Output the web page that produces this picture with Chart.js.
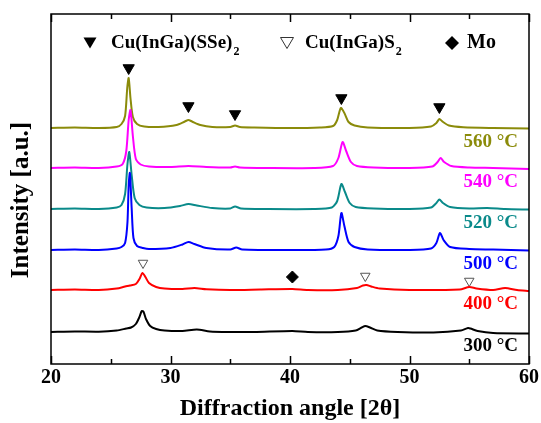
<!DOCTYPE html>
<html>
<head>
<meta charset="utf-8">
<script src="https://cdn.jsdelivr.net/npm/chart.js@4.4.0/dist/chart.umd.min.js"></script>
<style>
  body { margin: 0; background: #fff; }
  #wrap { width: 541px; height: 423px; }
</style>
</head>
<body>
<div id="wrap"><canvas id="xrd"></canvas></div>
<script>
// sample labels and colours, bottom curve first
var temps = ["300 °C", "400 °C", "500 °C", "520 °C", "540 °C", "560 °C"];
var colors = ["#000000", "#ff0000", "#0000ff", "#0a8a8a", "#ff00ff", "#8b8b0a"];
// vertical offset of each curve (a.u.)
var offsets = [32, 74, 114, 155, 196, 236];

// 2theta / intensity
var x300 = [20, 22, 24, 25.5, 26.3, 26.7, 27.1, 27.4, 27.6, 27.75, 27.95, 28.3, 28.8, 29.5, 31, 32.2, 33.3, 35, 37, 40.2, 41.5, 44, 45.5, 46.0, 46.3, 46.7, 47.3, 49, 52, 54.3, 54.9, 55.1, 55.7, 57, 60];
var y300 = [0, 0.5, 0.3, 1.5, 3.5, 4.5, 8, 15, 21, 20, 13, 6, 3, 1.5, 1, 2.5, 0.5, 0, 0, 1, 0, 0, 1.5, 4.5, 6, 4.5, 1.5, 0, -0.5, 1.5, 4, 3.5, 1, -1, -1.5];
var x400 = [20, 22, 24, 25.5, 26.2, 26.6, 27.1, 27.4, 27.65, 27.9, 28.2, 28.8, 29.5, 31, 32, 33, 35, 37.5, 40.2, 41.5, 44, 45.6, 46.1, 46.4, 46.8, 47.5, 50, 54.2, 55, 55.6, 57, 58, 59, 60];
var y400 = [0, 0.5, 0, 1.5, 3.5, 4.5, 6, 11, 17, 13, 7, 3, 1.5, 1, 2, 0.8, 0, 0.5, 1, 0, 0, 2, 4.5, 5, 3.5, 1.5, 0, 0.5, 3, 1.5, 0, 2, 0, -1];
var x500 = [20, 22, 24, 25.5, 25.9, 26.2, 26.4, 26.5, 26.6, 26.75, 26.9, 27.2, 27.7, 28.2, 30, 31, 31.5, 32, 33, 35, 35.5, 36, 40, 43, 43.7, 44.05, 44.3, 44.55, 44.9, 45.4, 46.5, 50, 51.8, 52.25, 52.55, 52.85, 53.4, 55, 57, 60];
var y500 = [0, 0.5, 0, 1.5, 3, 7, 28, 65, 77, 42, 12, 4, 2, 1, 2, 5.5, 8, 6, 2, 0.5, 2.5, 0.5, 0, 0.5, 3, 14, 37, 24, 8, 3, 0.5, 0, 1.5, 7, 17, 10, 3, 1, 0.5, -0.5];
var x520 = [20, 22, 24, 25.5, 25.9, 26.2, 26.4, 26.55, 26.75, 27.0, 27.4, 28, 29.5, 30.8, 31.5, 32.2, 33.5, 35, 35.4, 35.9, 38, 42, 43.5, 43.95, 44.3, 44.6, 45.0, 45.5, 47, 50, 51.8, 52.25, 52.5, 52.8, 53.4, 55, 56.5, 58, 60];
var y520 = [0, 0.5, 0, 1.5, 4, 15, 45, 57, 34, 11, 4, 1.5, 1, 3, 5, 3.5, 1, 0.5, 2.5, 0.5, 0, 0, 1.5, 8, 25, 17, 6, 2, 0.5, 0, 1.5, 6, 9.5, 6, 2, 0.5, 1, 0, -0.5];
var x540 = [20, 22, 24, 25.5, 26.0, 26.3, 26.5, 26.65, 26.85, 27.1, 27.5, 28.2, 30, 31.5, 33, 35, 35.4, 35.8, 38, 42, 43.6, 44.05, 44.4, 44.7, 45.1, 45.6, 47, 50, 51.9, 52.35, 52.6, 52.9, 53.5, 55, 57, 60];
var y540 = [0, 0.5, 0, 1.5, 4, 17, 48, 58, 32, 9, 3.5, 1.5, 1, 2, 1, 0.5, 1.5, 0.5, 0, 0, 2, 10, 26, 17, 6, 2, 0.5, 0, 1.5, 6, 10, 6, 2, 0.5, 0, -1];
var x560 = [20, 22, 24, 25.5, 25.9, 26.2, 26.38, 26.5, 26.65, 26.85, 27.2, 27.8, 29, 30.5, 31.2, 31.5, 31.8, 32.5, 33.5, 35, 35.4, 35.8, 37, 40, 42.5, 43.6, 43.95, 44.25, 44.55, 44.9, 45.4, 46.5, 50, 51.8, 52.25, 52.5, 52.75, 53.3, 54.5, 57, 60];
var y560 = [0, 0.5, 0, 1, 4, 12, 40, 50, 30, 11, 4, 1.5, 1, 3, 6.5, 8, 6.5, 3, 1, 1, 2.5, 1, 0.5, 0, 0.5, 2, 8, 20, 15, 6, 2.5, 0.5, 0, 1.5, 5, 9, 6.5, 2.5, 0.8, 0, -0.5];

// peak markers
var cisseX = [26.5, 31.5, 35.4, 44.3, 52.5];
var cisseY = [296, 258, 250, 266, 257];
var cisX = [27.7, 46.3, 55.0];
var cisY = [101, 88, 83];
var moX = [40.2];
var moY = [87];

var xTicks = [20, 30, 40, 50, 60];

var serif = "'Liberation Serif', 'Times New Roman', serif";

function pts(xs, ys, off) {
    var out = [];
    for (let i = 0; i < xs.length; i++) out.push({ x: xs[i], y: ys[i] + off });
    return out;
}
function mk(xs, ys) {
    var out = [];
    for (let i = 0; i < xs.length; i++) out.push({ x: xs[i], y: ys[i] });
    return out;
}

var xsAll = [x300, x400, x500, x520, x540, x560];
var ysAll = [y300, y400, y500, y520, y540, y560];

var datasets = [];
for (let i = 0; i < temps.length; i++) {
    datasets.push({
        label: temps[i],
        data: pts(xsAll[i], ysAll[i], offsets[i]),
        borderColor: colors[i],
        borderWidth: 2,
        pointRadius: 0,
        tension: 0.25,
        fill: false
    });
}
datasets.push({ label: "CISSe", data: mk(cisseX, cisseY), showLine: false, pointStyle: "triangle", rotation: 180, pointRadius: 6.5, backgroundColor: "#000", borderColor: "#000", borderWidth: 1 });
datasets.push({ label: "CIS", data: mk(cisX, cisY), showLine: false, pointStyle: "triangle", rotation: 180, pointRadius: 5.5, backgroundColor: "#fff", borderColor: "#555", borderWidth: 1 });
datasets.push({ label: "Mo", data: mk(moX, moY), showLine: false, pointStyle: "rectRot", pointRadius: 6, backgroundColor: "#000", borderColor: "#000", borderWidth: 1 });

// frame, inward ticks, legend, y title and curve labels
var decor = {
    id: "decor",
    afterDraw(chart) {
        var ctx = chart.ctx;
        var a = chart.chartArea;
        var xs = chart.scales.x, ys = chart.scales.y;
        ctx.save();
        ctx.strokeStyle = "#000";
        ctx.lineWidth = 1.5;
        ctx.strokeRect(a.left, a.top, a.right - a.left, a.bottom - a.top);
        for (let v = 20; v <= 60; v += 5) {
            var px = Math.round(xs.getPixelForValue(v)) + 0.5;
            var len = v % 10 === 0 ? 8 : 5;
            ctx.beginPath();
            ctx.moveTo(px, a.bottom); ctx.lineTo(px, a.bottom - len);
            ctx.moveTo(px, a.top); ctx.lineTo(px, a.top + len);
            ctx.stroke();
        }

        // y title
        ctx.save();
        ctx.translate(22, 200);
        ctx.rotate(-Math.PI / 2);
        ctx.fillStyle = "#000";
        ctx.font = "bold 25px " + serif;
        ctx.textAlign = "center";
        ctx.textBaseline = "middle";
        ctx.fillText("Intensity [a.u.]", 0, 0);
        ctx.restore();

        // legend
        var ly = a.top + 29;
        ctx.fillStyle = "#000";
        ctx.textBaseline = "middle";
        ctx.textAlign = "left";
        function tri(cx, cy, filled) {
            ctx.beginPath();
            ctx.moveTo(cx - 6.5, cy - 5.5); ctx.lineTo(cx + 6.5, cy - 5.5); ctx.lineTo(cx, cy + 5.5); ctx.closePath();
            if (filled) { ctx.fill(); } else { ctx.lineWidth = 1; ctx.strokeStyle = "#333"; ctx.stroke(); }
        }
        function sub(text, x, y) {
            ctx.font = "bold 19px " + serif;
            ctx.fillText(text, x, y);
            var w = ctx.measureText(text).width;
            ctx.font = "bold 12px " + serif;
            ctx.fillText("2", x + w + 1, y + 9);
        }
        tri(90, ly, true);
        sub("Cu(InGa)(SSe)", 111, ly);
        tri(287, ly, false);
        ctx.fillStyle = "#000";
        sub("Cu(InGa)S", 305, ly);
        ctx.beginPath();
        ctx.moveTo(452, ly - 7); ctx.lineTo(459, ly); ctx.lineTo(452, ly + 7); ctx.lineTo(445, ly); ctx.closePath();
        ctx.fill();
        ctx.font = "bold 20px " + serif;
        ctx.fillText("Mo", 467, ly);

        // temperature labels
        ctx.textAlign = "right";
        ctx.font = "bold 19px " + serif;
        for (let i = 0; i < temps.length; i++) {
            ctx.fillStyle = colors[i];
            ctx.fillText(temps[i], a.right - 11, ys.getPixelForValue(offsets[i]) + 14);
        }
        ctx.restore();
    }
};

new Chart(document.getElementById("xrd"), {
    type: "line",
    data: { datasets: datasets },
    options: {
        responsive: true,
        maintainAspectRatio: false,
        animation: false,
        layout: { padding: { top: 14, right: 12, left: 0, bottom: 0 } },
        plugins: { legend: { display: false }, tooltip: { enabled: false } },
        scales: {
            x: {
                type: "linear",
                min: 20, max: 60,
                grid: { display: false },
                border: { display: false },
                afterBuildTicks: s => { s.ticks = xTicks.map(v => ({ value: v })); },
                afterFit: s => { s.height = 59; s.paddingLeft = 0; s.paddingRight = 0; },
                ticks: { color: "#000", padding: -6, maxRotation: 0, font: { family: serif, size: 20, weight: "bold" } },
                title: { display: true, text: "Diffraction angle [2θ]", color: "#000", padding: { top: 0, bottom: 0 }, font: { family: serif, size: 24, weight: "bold" } }
            },
            y: {
                min: 0, max: 350,
                grid: { display: false },
                border: { display: false },
                ticks: { display: false },
                afterFit: s => { s.width = 51; },
                title: { display: false }
            }
        }
    },
    plugins: [decor]
});
</script>
</body>
</html>
